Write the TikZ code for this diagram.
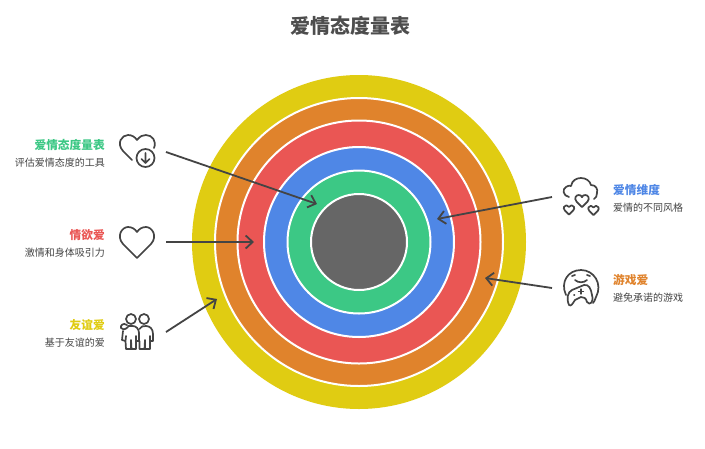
\documentclass[tikz,border=0pt]{standalone}
\usepackage{fontspec}
\setmainfont{Noto Sans CJK SC}
\usetikzlibrary{arrows.meta}
\definecolor{cyellow}{HTML}{E0CC12}
\definecolor{corange}{HTML}{E0832C}
\definecolor{cred}{HTML}{EA5654}
\definecolor{cblue}{HTML}{4F87E6}
\definecolor{cgreen}{HTML}{3CC885}
\definecolor{cgrey}{HTML}{666666}
\definecolor{cink}{HTML}{444444}
\tikzset{x=1pt,y=-1pt,
 ring/.style={circle,inner sep=0pt,draw=white,line width=2pt},
 arrowline/.style={draw=cink,line width=1.8pt,-{Straight Barb[length=7pt,width=13pt,line width=1.8pt]}},
 ico/.style={draw=cink,line width=1.7pt,line cap=round,line join=round,fill=none},
 lab/.style={font=\fontsize{11.7}{13}\selectfont\bfseries,inner sep=0pt},
 sub/.style={font=\fontsize{10}{12}\selectfont,text=cink,inner sep=0pt}}
\newcommand\hrt[3]{\draw[ico,shift={(#1,#2)},scale=#3] (0,6) -- (-5,1) .. controls (-7.5,-2) and (-5.5,-5) .. (-3,-5) .. controls (-1.5,-5) and (-0.5,-4.5) .. (0,-3) .. controls (.5,-4.5) and (1.5,-5) .. (3,-5) .. controls (5.5,-5) and (7.5,-2) .. (5,1) -- cycle;}
\begin{document}
\begin{tikzpicture}
\useasboundingbox (0,0) rectangle (705,448);
\fill[white] (0,0) rectangle (705,448);
\node[font=\fontsize{20}{24}\selectfont\bfseries,text=cink!95,inner sep=0pt] (title) at (350,26) {爱情态度量表};
\node[circle,fill=cyellow,minimum size=334pt,inner sep=0pt] (r1) at (359,242) {};
\node[ring,fill=corange,minimum size=288pt] (r2) at (359,242) {};
\node[ring,fill=cred,minimum size=243pt] (r3) at (359,242) {};
\node[ring,fill=cblue,minimum size=190pt] (r4) at (359,242) {};
\node[ring,fill=cgreen,minimum size=143pt] (r5) at (359,242) {};
\node[ring,fill=cgrey,minimum size=96pt] (r6) at (359,242) {};
% labels left
\node[lab,text=cgreen,anchor=east] (l1) at (105,145) {爱情态度量表};
\node[sub,anchor=east] (s1) at (105,163) {评估爱情态度的工具};
\node[lab,text=cred,anchor=east] (l2) at (105,235) {情欲爱};
\node[sub,anchor=east] (s2) at (105,253) {激情和身体吸引力};
\node[lab,text=cyellow,anchor=east] (l3) at (105,325) {友谊爱};
\node[sub,anchor=east] (s3) at (105,343) {基于友谊的爱};
\node[lab,text=cblue,anchor=west] (l4) at (613,190) {爱情维度};
\node[sub,anchor=west] (s4) at (613,208) {爱情的不同风格};
\node[lab,text=corange,anchor=west] (l5) at (613,280) {游戏爱};
\node[sub,anchor=west] (s5) at (613,298) {避免承诺的游戏};
% connector ends
\coordinate (a1) at (166,152); \coordinate (b1) at (317,204);
\coordinate (a2) at (166,242); \coordinate (b2) at (254,242);
\coordinate (a3) at (166,332); \coordinate (b3) at (217,299);
\coordinate (a4) at (552,197); \coordinate (b4) at (437,219);
\coordinate (a5) at (552,288); \coordinate (b5) at (485,278);
\draw[arrowline] (a1) -- (b1);
\draw[arrowline] (a2) -- (b2);
\draw[arrowline] (a3) -- (b3);
\draw[arrowline] (a4) -- (b4);
\draw[arrowline] (a5) -- (b5);
% icon 1: heart with down arrow
\draw[ico] (132,160) -- (123,151) .. controls (116,143) and (122,135) .. (128,135) .. controls (132,135) and (135,137) .. (137,140) .. controls (140,136) and (143,135) .. (146,135) .. controls (152,135) and (157,141) .. (154,148);
\draw[ico] (145.5,158) circle (9);
\draw[ico] (145.5,153) -- (145.5,163) (141.5,159) -- (145.5,163) -- (149.5,159);
% icon 2: heart
\draw[ico] (137,258) -- (123,244) .. controls (116,236) and (122,227) .. (128,227) .. controls (132,227) and (135,229) .. (137,232) .. controls (139,229) and (142,227) .. (146,227) .. controls (152,227) and (158,236) .. (151,244) -- cycle;
% icon 3: two people
\draw[ico] (131,319) circle (5) (144,319) circle (5);
\draw[ico] (127,325) .. controls (123,322) and (120,326) .. (121,328) .. controls (122,330) and (125,330) .. (128,327);
\draw[ico] (123,331) -- (122,340) -- (125.5,341) -- (126,336) (125.5,341) -- (126,349) -- (131,349) -- (131,340) (131,340) -- (131.5,349) -- (136,349) -- (136,336) (136,341) -- (139,341) -- (139,333) .. controls (139,329) and (136,326) .. (133,326) -- (128,326);
\draw[ico] (139.5,329) .. controls (141,326) and (143,326) .. (146,326) .. controls (150,326) and (153,329) .. (153,334) -- (153,341) -- (150,341) -- (150,336) (150,341) -- (150,349) -- (145,349) -- (145,340) (145,340) -- (144.5,349) -- (139.5,349) -- (139.5,341);
% icon 4: cloud hearts
\draw[ico] (569,197) .. controls (563,196) and (562,189) .. (566,187) .. controls (569,185) and (570,186) .. (571,186) .. controls (572,180) and (577,178) .. (581,178) .. controls (586,178) and (590,181) .. (591,185) .. controls (596,185) and (598,189) .. (597,193) .. controls (597,196) and (596,198) .. (594,199);
\hrt{582}{200.5}{1.1}
\hrt{569}{209.5}{.85}
\hrt{593.5}{210}{.85}
% icon 5: face with controller
\draw[ico] (566,295) .. controls (560,282) and (568,270) .. (581,270) .. controls (594,270) and (603,284) .. (596,297) .. controls (595,300) and (594,302) .. (593,303);
\draw[ico] (572,276) -- (575,275) (587,275) -- (590,276) (575,280) .. controls (578,283) and (584,283) .. (587,280);
\draw[ico] (569,305) .. controls (566,298) and (568,292) .. (572,290) -- (584,285) .. controls (589,284) and (591,289) .. (592,295) .. controls (594,302) and (590,306) .. (587,302) .. controls (586,298) and (584,297) .. (581,297) -- (575,300) .. controls (573,303) and (571,307) .. (569,305);
\draw[ico] (574,295) -- (574.5,295);
\draw[ico,line width=1.3pt] (581,289) -- (581,294) (578.5,291.5) -- (583.5,291.5);
\end{tikzpicture}
\end{document}
